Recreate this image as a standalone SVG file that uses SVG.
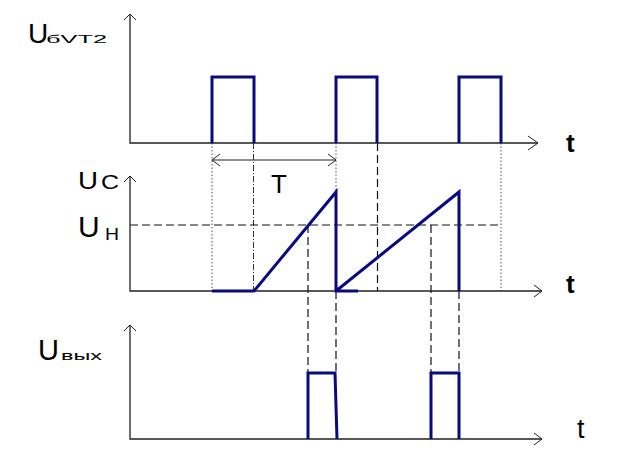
<svg xmlns="http://www.w3.org/2000/svg" width="620" height="459" viewBox="0 0 620 459">
<style>
.axis{stroke:#222;stroke-width:1.3;fill:none}
.head{stroke:#222;stroke-width:1;fill:none}
.sig{stroke:#0a0a80;stroke-width:3;fill:none;stroke-linejoin:miter}
.dot{stroke:#555;stroke-width:1;stroke-dasharray:1.5 2;fill:none}
.dash{stroke:#111;stroke-width:1.2;stroke-dasharray:8 4;fill:none}
.dashdot{stroke:#333;stroke-width:1;stroke-dasharray:6 2 1 2;fill:none}
.lbl{font-family:"Liberation Sans",Arial,sans-serif;fill:#000}
</style>
<rect width="620" height="459" fill="#fff"/>
<g id="guides">
<path class="dot" d="M212,143 V291"/>
<path class="dashdot" d="M253.5,143 V291"/>
<path class="dot" d="M336,143 V192"/>
<path class="dash" d="M336,291 V373"/>
<path class="dash" d="M377.5,143 V291"/>
<path class="dot" d="M501,143 V291"/>
<path class="dash" d="M130,225 H501"/>
<path class="dash" d="M308,225 V373"/>
<path class="dash" d="M431,225 V373"/>
<path class="dash" d="M459,291 V373"/>
</g>
<g id="axes">
<path class="axis" d="M130,14 V143 H538"/>
<path class="head" d="M124,20 L130,14 L136,20 M528,136 L538,143 L528,150"/>
<path class="axis" d="M130,176 V291 H542"/>
<path class="head" d="M124,182 L130,176 L136,182 M534,285 L542,291 L534,297"/>
<path class="axis" d="M130,325 V439 H542"/>
<path class="head" d="M124,331 L130,325 L136,331 M534,433 L542,439 L534,445"/>
</g>
<g id="dimension-T">
<path class="head" d="M212,160 H336 M220,154 L212,160 L220,166 M328,154 L336,160 L328,166"/>
<text class="lbl" x="271" y="193" font-size="26">T</text>
</g>
<g id="signal-top">
<path class="sig" d="M212,143 V77 H254 V143 M336,143 V77 H377 V143 M459,143 V77 H501 V143"/>
</g>
<g id="signal-mid">
<path class="sig" d="M212,291 H254 L336,192 V291 H358 M336,291 L459,192 V291"/>
</g>
<g id="signal-bottom">
<path class="sig" d="M308,439 V373 H335 L337,439 M431,439 V373 H459 V439"/>
</g>
<g id="labels">
<text class="lbl" x="28" y="42.5" font-size="28">U</text>
<text class="lbl" x="46" y="42.5" font-size="10.5" textLength="61" lengthAdjust="spacingAndGlyphs">бVT2</text>
<text class="lbl" x="78" y="189" font-size="24" textLength="20" lengthAdjust="spacingAndGlyphs">U</text>
<text class="lbl" x="101" y="189" font-size="20" textLength="18" lengthAdjust="spacingAndGlyphs">C</text>
<text class="lbl" x="78" y="237" font-size="30">U</text>
<text class="lbl" x="105" y="240" font-size="17" textLength="14" lengthAdjust="spacingAndGlyphs">Н</text>
<text class="lbl" x="38" y="359.5" font-size="29">U</text>
<text class="lbl" x="61" y="359.5" font-size="13.5" textLength="41" lengthAdjust="spacingAndGlyphs">вых</text>
<text class="lbl" x="566" y="151.5" font-size="26" font-weight="bold">t</text>
<text class="lbl" x="566" y="292.5" font-size="26" font-weight="bold">t</text>
<text class="lbl" x="577" y="437.5" font-size="27">t</text>
</g>
</svg>
